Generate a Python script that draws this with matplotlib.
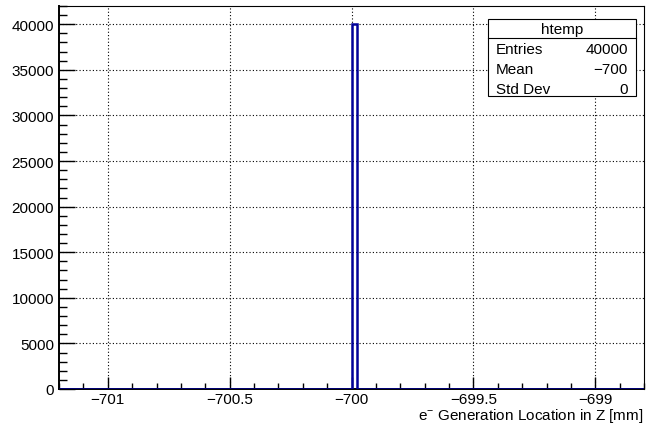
import matplotlib
matplotlib.use("Agg")
import matplotlib.pyplot as plt
from matplotlib.ticker import MultipleLocator, FuncFormatter
from matplotlib.patches import Rectangle
import numpy as np

plt.rcParams['font.family'] = ['Liberation Sans', 'DejaVu Sans']
plt.rcParams['mathtext.fontset'] = 'custom'
plt.rcParams['mathtext.rm'] = 'Liberation Sans'
plt.rcParams['mathtext.default'] = 'regular'

# histogram binning (ROOT htemp default: 100 bins)
z_lo, z_hi, n_bins = -701.2, -698.8, 100
hist_name = "htemp"
entries = 40000
mean_z = -700
std_z = 0
filled_bin = 50          # bin holding every entry, [-700, -699.976)

edges = np.linspace(z_lo, z_hi, n_bins + 1)
counts = np.zeros(n_bins)
counts[filled_bin] = entries

FS = 11
W, H = 646, 427
fig = plt.figure(figsize=(W / 100, H / 100), dpi=100)
ax = fig.add_axes([59 / W, 1 - 390 / H, 585 / W, 383 / H])

ax.stairs(counts, edges, color='#000099', lw=1.8, zorder=3)

ax.set_xlim(z_lo, z_hi)
ax.set_ylim(0, 42000)

ax.xaxis.set_major_locator(MultipleLocator(0.5))
ax.xaxis.set_minor_locator(MultipleLocator(0.1))
ax.yaxis.set_major_locator(MultipleLocator(5000))
ax.yaxis.set_minor_locator(MultipleLocator(1000))

def fmt(v, pos):
    return ('%g' % round(v, 3)).replace('-', '\u2212')

ax.xaxis.set_major_formatter(FuncFormatter(fmt))
ax.yaxis.set_major_formatter(FuncFormatter(fmt))

ax.tick_params(axis='both', which='both', direction='in', color='black',
               labelsize=FS, top=False, right=False)
ax.tick_params(axis='y', which='major', length=11.5, width=1, pad=3.5)
ax.tick_params(axis='y', which='minor', length=5.8, width=1)
ax.tick_params(axis='x', which='major', length=8.6, width=1, pad=2.5)
ax.tick_params(axis='x', which='minor', length=4.3, width=1)

ax.grid(True, which='major', ls=(0, (1, 2)), color='black', lw=0.8)
ax.set_axisbelow(True)

for side in ('top', 'right'):
    ax.spines[side].set_linewidth(0.8)
for side in ('left', 'bottom'):
    ax.spines[side].set_linewidth(1.4)

ax.set_xlabel(r'e$^{-}$ Generation Location in Z [mm]', loc='right',
              fontsize=FS, labelpad=0)

# stats box
def fx(px):
    return px / W

def fy(py):
    return 1 - py / H

bx0, bx1, by0, by1 = 488, 636, 20, 97
fig.patches.append(Rectangle((fx(bx0), fy(by1)), fx(bx1) - fx(bx0), fy(by0) - fy(by1),
                             transform=fig.transFigure, facecolor='white',
                             edgecolor='black', lw=0.8, zorder=5))
fig.add_artist(plt.Line2D([fx(bx0), fx(bx1)], [fy(39), fy(39)],
                          transform=fig.transFigure, color='black', lw=0.8, zorder=6))
fig.text(fx((bx0 + bx1) / 2), fy(30), hist_name, ha='center', va='center',
         fontsize=FS, zorder=7)
rows = [("Entries", str(entries)), ("Mean", fmt(mean_z, 0)), ("Std Dev", fmt(std_z, 0))]
for i, (name, val) in enumerate(rows):
    y = fy(49.5 + 20 * i)
    fig.text(fx(496), y, name, ha='left', va='center', fontsize=FS, zorder=7)
    fig.text(fx(628), y, val, ha='right', va='center', fontsize=FS, zorder=7)

fig.savefig('out.png', dpi=100)
